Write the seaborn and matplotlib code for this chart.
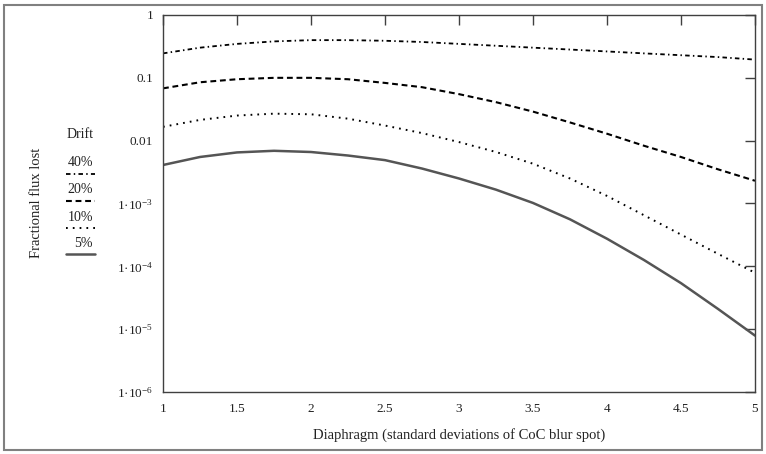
import numpy as np
import pandas as pd
import matplotlib
matplotlib.use("Agg")
import matplotlib.pyplot as plt
from matplotlib.lines import Line2D
from matplotlib.patches import Rectangle
import seaborn as sns

# Diaphragme en écarts-types de la tache de flou
diaphragme = [1.0, 1.25, 1.5, 1.75, 2.0, 2.25, 2.5, 2.75, 3.0, 3.25, 3.5, 3.75, 4.0, 4.25, 4.5, 4.75, 5.0]

# Fraction du flux perdu pour chaque dérive
derive_40 = [0.245, 0.302, 0.347, 0.380, 0.398, 0.398, 0.389, 0.372, 0.347, 0.324, 0.302, 0.282, 0.263, 0.245, 0.229, 0.214, 0.195]
derive_20 = [0.068, 0.085, 0.095, 0.100, 0.100, 0.095, 0.083, 0.071, 0.055, 0.041, 0.029, 0.0195, 0.0129, 0.0083, 0.0055, 0.0035, 0.0023]
derive_10 = [0.0166, 0.0214, 0.0251, 0.0269, 0.0263, 0.0224, 0.0174, 0.0132, 0.0095, 0.0066, 0.0043, 0.0025, 0.00132, 0.00065, 0.00032, 0.000158, 0.000079]
derive_5 = [0.0041, 0.0055, 0.0065, 0.0069, 0.0066, 0.0058, 0.0049, 0.0036, 0.0025, 0.00166, 0.00102, 0.00056, 0.000275, 0.000126, 0.000054, 0.000021, 0.0000079]

etiquettes_derive = ["40%", "20%", "10%", "5%"]
x_ticks = [1, 1.5, 2, 2.5, 3, 3.5, 4, 4.5, 5]
x_labels = ["1", "1.5", "2", "2.5", "3", "3.5", "4", "4.5", "5"]
y_ticks = [1e-6, 1e-5, 1e-4, 1e-3, 1e-2, 1e-1, 1]
y_labels = [r"1·10$^{-6}$", r"1·10$^{-5}$", r"1·10$^{-4}$", r"1·10$^{-3}$", "0.01", "0.1", "1"]

sns.set_style("white")
plt.rcParams["font.family"] = ["Liberation Serif", "DejaVu Serif"]
plt.rcParams["mathtext.fontset"] = "custom"
plt.rcParams["mathtext.rm"] = "Liberation Serif"
plt.rcParams["mathtext.it"] = "Liberation Serif:italic"
plt.rcParams["mathtext.default"] = "rm"

fig = plt.figure(figsize=(7.66, 4.54), dpi=100)
ax = fig.add_axes([163 / 766, 62 / 454, 592 / 766, 377 / 454])

# styles des courbes (tirets courts façon Mathcad)
styles = [
    (derive_40, (0, (2.5, 1.8, 0.8, 1.8)), "black", 1.3),
    (derive_20, (0, (2.8, 1.8)), "black", 1.5),
    (derive_10, (0, (0.9, 2.6)), "black", 1.4),
    (derive_5, "-", "#555555", 1.8),
]
for valeurs, ls, couleur, lw in styles:
    sns.lineplot(x=diaphragme, y=valeurs, ax=ax, color=couleur, linestyle=ls, linewidth=lw)

ax.set_yscale("log")
ax.set_xlim(1, 5)
ax.set_ylim(1e-6, 1)
ax.set_xticks(x_ticks)
ax.set_xticklabels(x_labels)
ax.set_yticks(y_ticks)
ax.set_yticklabels(y_labels)
ax.minorticks_off()
ax.tick_params(axis="both", which="major", direction="in", length=7, width=1,
               color="#404040", labelsize=9.5, top=True, right=True, labelcolor="#222222")
ax.tick_params(axis="y", pad=7)
ax.tick_params(axis="x", pad=8)
for s in ax.spines.values():
    s.set_color("#404040")
    s.set_linewidth(1)

ax.set_xlabel("Diaphragm (standard deviations of CoC blur spot)", fontsize=10.5, color="#222222", labelpad=9)
fig.text(36 / 766, 1 - 203 / 454, "Fractional flux lost", rotation=90, ha="center", va="center",
         fontsize=10.5, color="#222222")

# Légende manuelle façon Mathcad
fig.text(80 / 766, 1 - 135 / 454, "Drift", ha="center", va="center", fontsize=10, color="#222222")
y_txt = [163, 190, 217, 243]
for i, (valeurs, ls, couleur, lw) in enumerate(styles):
    fig.text(93 / 766, 1 - y_txt[i] / 454, etiquettes_derive[i], ha="right", va="center",
             fontsize=10, color="#222222")
    yl = 1 - (y_txt[i] + 11) / 454
    fig.add_artist(Line2D([66 / 766, 95 / 766], [yl, yl], transform=fig.transFigure,
                          color=couleur, linestyle=ls, linewidth=lw))

# cadre gris autour de la figure
fig.add_artist(Rectangle((4 / 766, 4 / 454), 758 / 766, 445 / 454, transform=fig.transFigure,
                         fill=False, edgecolor="#808080", linewidth=1.5))

fig.savefig("out.png", dpi=100)
